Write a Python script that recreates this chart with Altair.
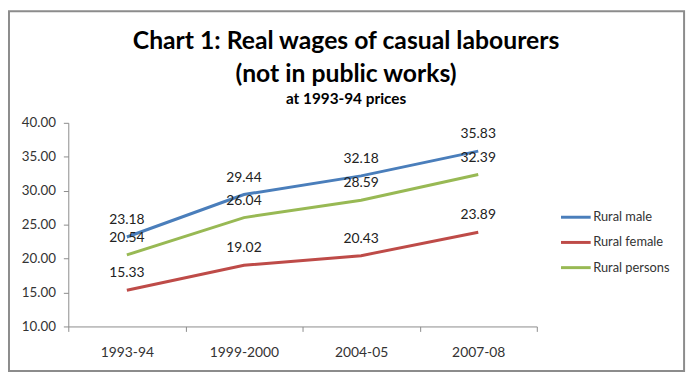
import altair as alt
import pandas as pd

years = ["1993-94", "1999-2000", "2004-05", "2007-08"]
rural_male = [23.18, 29.44, 32.18, 35.83]
rural_female = [15.33, 19.02, 20.43, 23.89]
rural_persons = [20.54, 26.04, 28.59, 32.39]
series_names = ["Rural male", "Rural female", "Rural persons"]
series_colors = ["#4A7EBB", "#BE4B48", "#98B954"]
y_ticks = [10, 15, 20, 25, 30, 35, 40]

rows = []
for name, vals in zip(series_names, [rural_male, rural_female, rural_persons]):
    for y, v in zip(years, vals):
        rows.append({"Year": y, "Wage": v, "Series": name})
df = pd.DataFrame(rows)

FONT = "Lato"

x_enc = alt.X("Year:N", sort=years, title=None,
              scale=alt.Scale(paddingInner=0, paddingOuter=0),
              axis=alt.Axis(labelAngle=0, tickBand="extent", labelFontSize=14,
                            labelColor="#333333", labelFont=FONT, labelPadding=14,
                            domainColor="#8C8C8C", tickColor="#8C8C8C", tickSize=5,
                            grid=False))
y_enc = alt.Y("Wage:Q", title=None,
              scale=alt.Scale(domain=[10, 40], nice=False, zero=False),
              axis=alt.Axis(values=y_ticks, format=".2f",
                            labelFontSize=13.5, labelColor="#333333", labelFont=FONT,
                            domainColor="#8C8C8C", tickColor="#8C8C8C", tickSize=5,
                            labelPadding=8, grid=False, labelOverlap=False))
color_enc = alt.Color("Series:N", sort=series_names,
                      scale=alt.Scale(domain=series_names, range=series_colors),
                      legend=alt.Legend(title=None, orient="none", legendX=497, legendY=79,
                                        symbolType="stroke", symbolSize=900,
                                        symbolStrokeWidth=3, labelFontSize=13,
                                        labelFont=FONT, labelColor="#333333",
                                        rowPadding=1.5, labelOffset=1))

base = alt.Chart(df)

frame = alt.Chart(pd.DataFrame({"a": [0]})).mark_rect(
    fill="transparent", stroke="#8C8C8C", strokeWidth=2
).encode(x=alt.value(-60), x2=alt.value(623), y=alt.value(-113), y2=alt.value(251))

lines = base.mark_line(strokeWidth=3).encode(x=x_enc, y=y_enc, color=color_enc)
labels = base.mark_text(baseline="bottom", dy=-10, fontSize=14, font=FONT,
                        color="#222222").encode(
    x=x_enc, y=y_enc, text=alt.Text("Wage:Q", format=".2f"))

chart = alt.layer(frame, lines, labels).properties(
    width=474, height=206,
    padding={"left": 61, "top": 114, "right": 156, "bottom": 52},
    autosize=alt.AutoSizeParams(type="none"),
    title=alt.TitleParams(
        text=["Chart 1: Real wages of casual labourers", "(not in public works)"],
        subtitle="at 1993-94 prices",
        anchor="middle", dx=44, fontSize=25, font=FONT, fontWeight="bold",
        color="#000000", lineHeight=33, subtitleFont=FONT, subtitleFontSize=15.5,
        subtitleFontWeight="bold", subtitleColor="#000000", subtitlePadding=5,
        offset=-98),
).configure_view(stroke=None)

chart.save("out.html", embed_options={"renderer": "svg", "actions": False})
